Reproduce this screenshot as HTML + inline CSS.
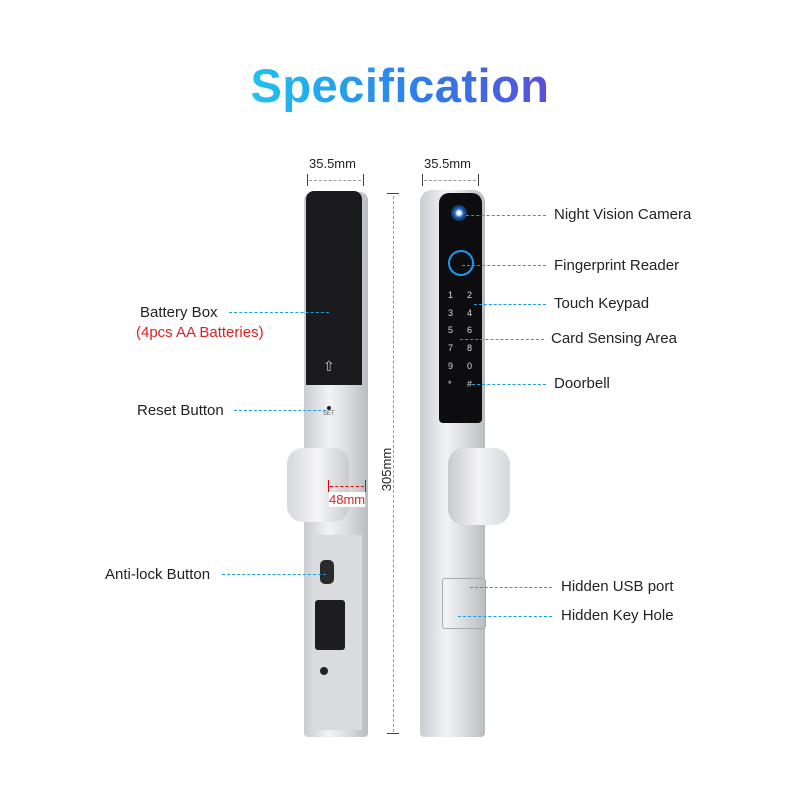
<!DOCTYPE html>
<html><head><style>
body{margin:0;width:800px;height:800px;background:#fff;position:relative;overflow:hidden;font-family:"Liberation Sans",sans-serif}
.a{position:absolute}
.t{position:absolute;font-size:15px;color:#222;white-space:nowrap}
.d{position:absolute;height:0;border-top:1px dashed #1aa0e0}
.g{position:absolute;height:0;border-top:1px dashed #999}
.silver{background:linear-gradient(90deg,#c9ccd0,#f2f3f5 40%,#d8dadd 70%,#b9bcc0)}
.k{position:absolute;color:#ddd;font-size:9px}
</style></head><body>
<div class="a" style="left:0;width:800px;top:58px;text-align:center;font-size:47px;font-weight:bold;letter-spacing:0.5px"><span style="background:linear-gradient(90deg,#1fc3f0,#2f7be8 60%,#5a4fd8);-webkit-background-clip:text;color:transparent">Specification</span></div>

<!-- dims -->
<div class="t" style="left:309px;top:156px;font-size:13px">35.5mm</div>
<div class="t" style="left:424px;top:156px;font-size:13px">35.5mm</div>
<div class="a" style="left:307px;top:174px;width:1px;height:12px;background:#444"></div>
<div class="a" style="left:363px;top:174px;width:1px;height:12px;background:#444"></div>
<div class="g" style="left:309px;top:180px;width:52px"></div>
<div class="a" style="left:422px;top:174px;width:1px;height:12px;background:#444"></div>
<div class="a" style="left:478px;top:174px;width:1px;height:12px;background:#444"></div>
<div class="g" style="left:424px;top:180px;width:52px"></div>
<div class="a" style="left:387px;top:193px;width:12px;height:1px;background:#444"></div>
<div class="a" style="left:393px;top:196px;width:0;height:536px;border-left:1px dashed #999"></div>
<div class="a" style="left:387px;top:733px;width:12px;height:1px;background:#444"></div>
<div class="t" style="left:365px;top:462px;font-size:13px;transform:rotate(-90deg)">305mm</div>

<!-- left lock -->
<div class="a silver" style="left:304px;top:192px;width:64px;height:545px;border-radius:8px 8px 4px 4px"></div>
<div class="a" style="left:306px;top:191px;width:56px;height:194px;background:#1b1b1d;border-radius:8px 8px 0 0"></div>
<div class="a" style="left:323px;top:358px;color:#ccc;font-size:14px">⇧</div>
<div class="a" style="left:327px;top:406px;width:4px;height:4px;border-radius:50%;background:#222"></div>
<div class="a" style="left:323px;top:411px;font-size:6px;color:#555">SET</div>
<div class="a" style="left:287px;top:448px;width:62px;height:74px;background:linear-gradient(90deg,#d5d7da,#f6f6f7 50%,#c8cacd);border-radius:16px"></div>
<div class="a" style="left:312px;top:535px;width:50px;height:195px;background:#d9dbde"></div>
<div class="a" style="left:320px;top:560px;width:14px;height:24px;background:#2a2a2a;border-radius:5px"></div>
<div class="a" style="left:315px;top:600px;width:30px;height:50px;background:#1d1d1f;border-radius:3px"></div>
<div class="a" style="left:320px;top:667px;width:8px;height:8px;border-radius:50%;background:#222"></div>
<div class="a" style="left:328px;top:480px;width:1px;height:12px;background:#e00"></div>
<div class="a" style="left:365px;top:480px;width:1px;height:12px;background:#e00"></div>
<div class="a" style="left:330px;top:486px;width:34px;height:0;border-top:1px dashed #e00"></div>
<div class="t" style="left:329px;top:492px;font-size:13px;color:#e02020;background:#fff">48mm</div>

<!-- right lock -->
<div class="a silver" style="left:420px;top:190px;width:65px;height:547px;border-radius:12px 12px 4px 4px"></div>
<div class="a" style="left:439px;top:193px;width:43px;height:230px;background:#0d0d10;border-radius:10px 10px 4px 4px"></div>
<div class="a" style="left:451px;top:205px;width:16px;height:16px;border-radius:50%;background:radial-gradient(#fff 15%,#1a60c0 40%,#123 80%)"></div>
<div class="a" style="left:448px;top:250px;width:22px;height:22px;border-radius:50%;border:2px solid #1a9af0"></div>
<div class="k" style="left:448px;top:290px">1</div><div class="k" style="left:467px;top:290px">2</div>
<div class="k" style="left:448px;top:308px">3</div><div class="k" style="left:467px;top:308px">4</div>
<div class="k" style="left:448px;top:325px">5</div><div class="k" style="left:467px;top:325px">6</div>
<div class="k" style="left:448px;top:343px">7</div><div class="k" style="left:467px;top:343px">8</div>
<div class="k" style="left:448px;top:361px">9</div><div class="k" style="left:467px;top:361px">0</div>
<div class="k" style="left:448px;top:379px">*</div><div class="k" style="left:467px;top:379px">#</div>
<div class="a" style="left:448px;top:448px;width:62px;height:77px;background:linear-gradient(90deg,#c8cacd,#f4f4f5 50%,#d5d7da);border-radius:16px"></div>
<div class="a" style="left:442px;top:578px;width:42px;height:49px;border:1px solid #aaa;border-radius:3px"></div>

<!-- labels -->
<div class="d" style="left:466px;top:215px;width:80px"></div><div class="t" style="left:554px;top:206px">Night Vision Camera</div>
<div class="d" style="left:462px;top:265px;width:84px"></div><div class="t" style="left:554px;top:257px">Fingerprint Reader</div>
<div class="d" style="left:474px;top:304px;width:72px"></div><div class="t" style="left:554px;top:295px">Touch Keypad</div>
<div class="d" style="left:460px;top:339px;width:84px"></div><div class="t" style="left:551px;top:330px">Card Sensing Area</div>
<div class="d" style="left:472px;top:384px;width:74px"></div><div class="t" style="left:554px;top:375px">Doorbell</div>
<div class="d" style="left:470px;top:587px;width:82px"></div><div class="t" style="left:561px;top:578px">Hidden USB port</div>
<div class="d" style="left:458px;top:616px;width:94px"></div><div class="t" style="left:561px;top:607px">Hidden Key Hole</div>
<div class="t" style="left:140px;top:304px">Battery Box</div>
<div class="t" style="left:136px;top:324px;color:#e02020">(4pcs AA Batteries)</div>
<div class="d" style="left:229px;top:312px;width:100px"></div>
<div class="t" style="left:137px;top:402px">Reset Button</div>
<div class="d" style="left:234px;top:410px;width:92px"></div>
<div class="t" style="left:105px;top:566px">Anti-lock Button</div>
<div class="d" style="left:222px;top:574px;width:104px"></div>
</body></html>
